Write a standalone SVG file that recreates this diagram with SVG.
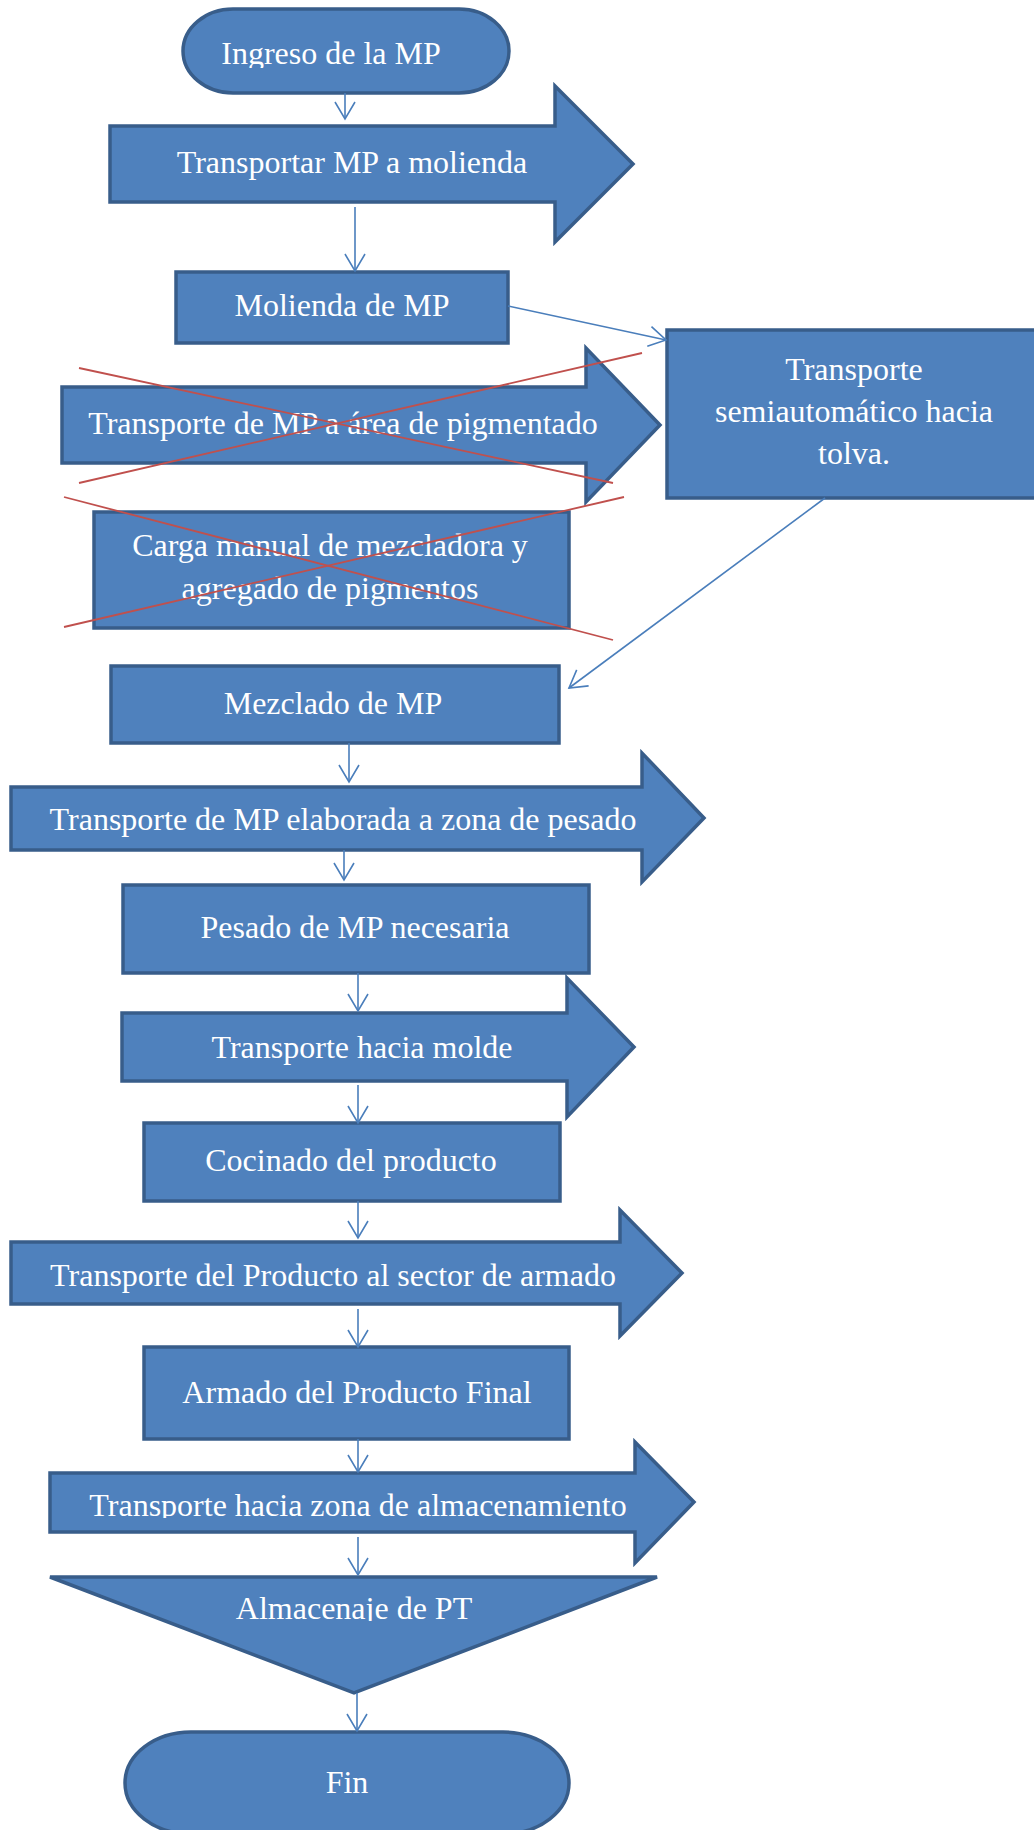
<svg xmlns="http://www.w3.org/2000/svg" width="1034" height="1830" viewBox="0 0 1034 1830">
<style>
.n{fill:#4F81BD;stroke:#385D8A;stroke-width:3.5;stroke-linejoin:miter}
.t{font-family:"Liberation Serif","Times New Roman",serif;font-size:32px;fill:#FFFFFF;text-anchor:middle}
.c{stroke:#4A7EBB;stroke-width:1.6;fill:none}
.x{stroke:#C0504D;stroke-width:1.8;fill:none}
</style>
<defs>
<marker id="ah" markerUnits="userSpaceOnUse" markerWidth="40" markerHeight="40" viewBox="-20 -20 40 40" refX="0" refY="0" orient="auto" overflow="visible">
<path d="M-17,-10 L0,0 L-17,10" fill="none" stroke="#4A7EBB" stroke-width="1.6"/>
</marker>
<clipPath id="clipIng"><rect x="150" y="0" width="400" height="68"/></clipPath>
<clipPath id="clipAlm"><rect x="40" y="1470" width="620" height="48"/></clipPath>
<clipPath id="clipPT"><rect x="40" y="1570" width="620" height="51"/></clipPath>
</defs>
<rect width="1034" height="1830" fill="#FFFFFF"/>

<g id="n-ingreso">
<path class="n" d="M233,9 H459 A50,42 0 0 1 509,51 A50,42 0 0 1 459,93 H233 A50,42 0 0 1 183,51 A50,42 0 0 1 233,9 Z"/>
<text class="t" x="331" y="64" clip-path="url(#clipIng)">Ingreso de la MP</text>
</g>
<g id="n-transportar">
<polygon class="n" points="110,126 555,126 555,86 633,164 555,242 555,202 110,202"/>
<text class="t" x="352" y="173">Transportar MP a molienda</text>
</g>
<g id="n-molienda">
<rect class="n" x="176" y="272" width="332" height="71"/>
<text class="t" x="342" y="316">Molienda de MP</text>
</g>
<g id="n-semiauto">
<rect class="n" x="667" y="330" width="373" height="168"/>
<text class="t" x="854" y="380">Transporte</text>
<text class="t" x="854" y="422">semiautomático hacia</text>
<text class="t" x="854" y="464">tolva.</text>
</g>
<g id="n-pigmentado">
<polygon class="n" points="62,387 586,387 586,348 660,425 586,502 586,463 62,463"/>
<text class="t" x="343" y="434">Transporte de MP a área de pigmentado</text>
</g>
<g id="n-carga">
<rect class="n" x="94" y="512" width="475" height="116"/>
<text class="t" x="330" y="556">Carga manual de mezcladora y</text>
<text class="t" x="330" y="599">agregado de pigmentos</text>
</g>
<g id="n-mezclado">
<rect class="n" x="111" y="666" width="448" height="77"/>
<text class="t" x="333" y="714">Mezclado de MP</text>
</g>
<g id="n-elaborada">
<polygon class="n" points="11,787 642,787 642,753 704,818 642,882 642,850 11,850"/>
<text class="t" x="343" y="830">Transporte de MP elaborada a zona de pesado</text>
</g>
<g id="n-pesado">
<rect class="n" x="123" y="885" width="466" height="88"/>
<text class="t" x="355" y="938">Pesado de MP necesaria</text>
</g>
<g id="n-molde">
<polygon class="n" points="122,1013 567,1013 567,978 634,1047 567,1117 567,1081 122,1081"/>
<text class="t" x="362" y="1058">Transporte hacia molde</text>
</g>
<g id="n-cocinado">
<rect class="n" x="144" y="1123" width="416" height="78"/>
<text class="t" x="351" y="1171">Cocinado del producto</text>
</g>
<g id="n-producto">
<polygon class="n" points="11,1242 620,1242 620,1210 682,1273 620,1336 620,1304 11,1304"/>
<text class="t" x="333" y="1286">Transporte del Producto al sector de armado</text>
</g>
<g id="n-armado">
<rect class="n" x="144" y="1347" width="425" height="92"/>
<text class="t" x="357" y="1403">Armado del Producto Final</text>
</g>
<g id="n-almacenamiento">
<polygon class="n" points="50,1473 635,1473 635,1442 694,1502 635,1563 635,1532 50,1532"/>
<text class="t" x="358" y="1516" clip-path="url(#clipAlm)">Transporte hacia zona de almacenamiento</text>
</g>
<g id="n-almacenaje">
<polygon class="n" points="50,1577 657,1577 354,1693"/>
<text class="t" x="354" y="1619" clip-path="url(#clipPT)">Almacenaje de PT</text>
</g>
<g id="n-fin">
<path class="n" d="M191,1732 H503 A66,51 0 0 1 569,1783 A66,51 0 0 1 503,1834 H191 A66,51 0 0 1 125,1783 A66,51 0 0 1 191,1732 Z"/>
<text class="t" x="347" y="1793">Fin</text>
</g>

<g id="connectors">
<line class="c" x1="345" y1="93" x2="345" y2="119" marker-end="url(#ah)"/>
<line class="c" x1="355" y1="207" x2="355" y2="271" marker-end="url(#ah)"/>
<line class="c" x1="508" y1="306" x2="666" y2="340" marker-end="url(#ah)"/>
<line class="c" x1="825" y1="498" x2="569" y2="688" marker-end="url(#ah)"/>
<line class="c" x1="349" y1="743" x2="349" y2="782" marker-end="url(#ah)"/>
<line class="c" x1="344" y1="850" x2="344" y2="880" marker-end="url(#ah)"/>
<line class="c" x1="358" y1="973" x2="358" y2="1011" marker-end="url(#ah)"/>
<line class="c" x1="358" y1="1085" x2="358" y2="1123" marker-end="url(#ah)"/>
<line class="c" x1="358" y1="1201" x2="358" y2="1238" marker-end="url(#ah)"/>
<line class="c" x1="358" y1="1309" x2="358" y2="1347" marker-end="url(#ah)"/>
<line class="c" x1="358" y1="1439" x2="358" y2="1472" marker-end="url(#ah)"/>
<line class="c" x1="358" y1="1537" x2="358" y2="1575" marker-end="url(#ah)"/>
<line class="c" x1="357" y1="1693" x2="357" y2="1731" marker-end="url(#ah)"/>
</g>

<g id="crossouts">
<line class="x" x1="79" y1="368" x2="613" y2="483"/>
<line class="x" x1="79" y1="483" x2="642" y2="353"/>
<line class="x" x1="64" y1="497" x2="613" y2="640"/>
<line class="x" x1="64" y1="627" x2="624" y2="497"/>
</g>
</svg>
